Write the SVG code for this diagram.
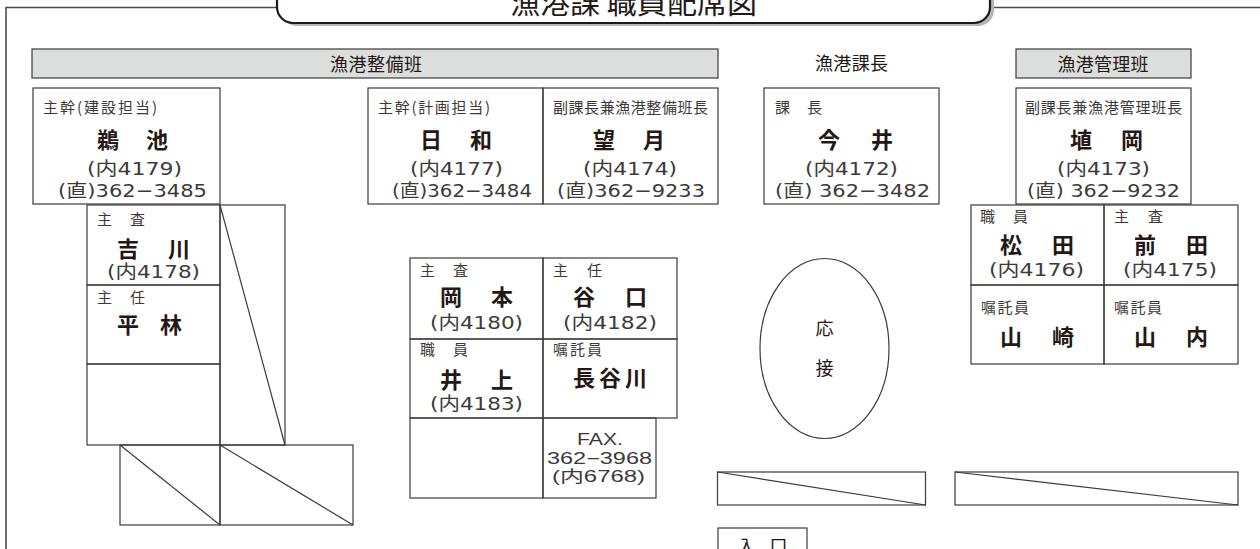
<svg xmlns="http://www.w3.org/2000/svg" width="1260" height="549" viewBox="0 0 1260 549">
<style>
.b{fill:none;stroke:#3e3a39;stroke-width:1.2}
.band{fill:#dcdddd;stroke:#3e3a39;stroke-width:1.2}
text{font-family:"Noto Sans CJK JP","Noto Sans CJK SC",sans-serif;fill:#231815}
.l{font-size:15px;fill:#3e3a39}
.n{font-size:22px;font-weight:bold;text-anchor:middle}
.d{font-family:"DejaVu Sans","Noto Sans CJK JP",sans-serif;font-size:18.5px;fill:#3e3a39;text-anchor:middle}
.f{font-family:"Liberation Sans","Noto Sans CJK JP",sans-serif;font-size:16px;fill:#3e3a39;text-anchor:middle}
.h{font-size:18px;text-anchor:middle}
</style>
<rect width="1260" height="549" fill="#fff"/>
<g id="frame">
<path d="M6,549 V7.5 H277 M990,7.5 H1260" fill="none" stroke="#4d4d4d" stroke-width="1.6"/>
<rect x="281" y="-28" width="713" height="54" rx="16" fill="#b5b5b6"/>
<rect x="277" y="-31" width="713" height="54" rx="16" fill="#fff" stroke="#231815" stroke-width="2.2"/>
<text x="633.5" y="14" font-size="28" text-anchor="middle" textLength="247" lengthAdjust="spacingAndGlyphs">漁港課 職員配席図</text>
</g>
<g id="headers">
<rect class="band" x="32" y="49" width="686" height="29"/>
<text class="h" x="376" y="71" textLength="92" lengthAdjust="spacing">漁港整備班</text>
<text class="h" x="851.5" y="70" textLength="73" lengthAdjust="spacing">漁港課長</text>
<rect class="band" x="1016" y="49" width="175" height="29"/>
<text class="h" x="1103" y="71" textLength="91" lengthAdjust="spacing">漁港管理班</text>
</g>
<g id="n-ujiike">
<rect class="b" x="33" y="88" width="187" height="116"/>
<text class="l" x="43" y="113" textLength="114" lengthAdjust="spacing">主幹(建設担当)</text>
<text class="n" x="132.5" y="148" textLength="71" lengthAdjust="spacing">鵜　池</text>
<text class="d" x="134.5" y="175" textLength="95" lengthAdjust="spacingAndGlyphs">(内4179)</text>
<text class="d" x="132.5" y="197" textLength="149" lengthAdjust="spacingAndGlyphs">(直)362−3485</text>
</g>
<g id="n-hiwa">
<rect class="b" x="368" y="88" width="175" height="116"/>
<text class="l" x="378" y="113" textLength="112" lengthAdjust="spacing">主幹(計画担当)</text>
<text class="n" x="456" y="148" textLength="72" lengthAdjust="spacing">日　和</text>
<text class="d" x="456.5" y="175" textLength="93" lengthAdjust="spacingAndGlyphs">(内4177)</text>
<text class="d" x="462" y="197" textLength="140" lengthAdjust="spacingAndGlyphs">(直)362−3484</text>
</g>
<g id="n-mochizuki">
<rect class="b" x="543" y="88" width="175" height="116"/>
<text class="l" x="553" y="113" textLength="155" lengthAdjust="spacing">副課長兼漁港整備班長</text>
<text class="n" x="629" y="148" textLength="72" lengthAdjust="spacing">望　月</text>
<text class="d" x="630" y="175" textLength="94" lengthAdjust="spacingAndGlyphs">(内4174)</text>
<text class="d" x="631" y="197" textLength="148" lengthAdjust="spacingAndGlyphs">(直)362−9233</text>
</g>
<g id="n-imai">
<rect class="b" x="764" y="88" width="175" height="116"/>
<text class="l" x="775" y="113" textLength="47" lengthAdjust="spacing">課　長</text>
<text class="n" x="855.5" y="148" textLength="75" lengthAdjust="spacing">今　井</text>
<text class="d" x="851.5" y="175" textLength="93" lengthAdjust="spacingAndGlyphs">(内4172)</text>
<text class="d" x="852.5" y="197" textLength="155" lengthAdjust="spacingAndGlyphs">(直) 362−3482</text>
</g>
<g id="n-haneoka">
<rect class="b" x="1016" y="88" width="175" height="116"/>
<text class="l" x="1025" y="113" textLength="157" lengthAdjust="spacing">副課長兼漁港管理班長</text>
<text class="n" x="1106.5" y="148" textLength="73" lengthAdjust="spacing">埴　岡</text>
<text class="d" x="1103.5" y="175" textLength="93" lengthAdjust="spacingAndGlyphs">(内4173)</text>
<text class="d" x="1103.5" y="197" textLength="153" lengthAdjust="spacingAndGlyphs">(直) 362−9232</text>
</g>
<g id="n-yoshikawa">
<rect class="b" x="87" y="205" width="133" height="80"/>
<text class="l" x="97" y="225" textLength="48" lengthAdjust="spacing">主　査</text>
<text class="n" x="153.5" y="257" textLength="73" lengthAdjust="spacing">吉　川</text>
<text class="d" x="153.5" y="278" textLength="93" lengthAdjust="spacingAndGlyphs">(内4178)</text>
</g>
<g id="n-hirabayashi">
<rect class="b" x="87" y="285" width="133" height="79"/>
<text class="l" x="97" y="303" textLength="48" lengthAdjust="spacing">主　任</text>
<text class="n" x="149.5" y="333" textLength="65" lengthAdjust="spacing">平　林</text>
</g>
<g id="furniture-left">
<rect class="b" x="87" y="364" width="133" height="81"/>
<rect class="b" x="220" y="205" width="65" height="240"/>
<line class="b" x1="220" y1="205" x2="285" y2="445"/>
<rect class="b" x="120" y="445" width="100" height="80"/>
<line class="b" x1="120" y1="445" x2="220" y2="525"/>
<rect class="b" x="220" y="445" width="133" height="80"/>
<line class="b" x1="220" y1="445" x2="353" y2="525"/>
</g>
<g id="n-okamoto">
<rect class="b" x="410" y="258" width="133" height="81"/>
<text class="l" x="420" y="276" textLength="48" lengthAdjust="spacing">主　査</text>
<text class="n" x="476.5" y="305" textLength="73" lengthAdjust="spacing">岡　本</text>
<text class="d" x="476.5" y="329" textLength="93" lengthAdjust="spacingAndGlyphs">(内4180)</text>
</g>
<g id="n-taniguchi">
<rect class="b" x="543" y="258" width="134" height="81"/>
<text class="l" x="553" y="276" textLength="49" lengthAdjust="spacing">主　任</text>
<text class="n" x="610" y="305" textLength="74" lengthAdjust="spacing">谷　口</text>
<text class="d" x="610" y="329" textLength="94" lengthAdjust="spacingAndGlyphs">(内4182)</text>
</g>
<g id="n-inoue">
<rect class="b" x="410" y="339" width="133" height="79"/>
<text class="l" x="420" y="355" textLength="48" lengthAdjust="spacing">職　員</text>
<text class="n" x="476.5" y="388" textLength="73" lengthAdjust="spacing">井　上</text>
<text class="d" x="476.5" y="410" textLength="93" lengthAdjust="spacingAndGlyphs">(内4183)</text>
</g>
<g id="n-hasegawa">
<rect class="b" x="543" y="339" width="134" height="79"/>
<text class="l" x="553" y="355" textLength="49" lengthAdjust="spacing">嘱託員</text>
<text class="n" x="610" y="386" font-size="23" textLength="74" lengthAdjust="spacing">長谷川</text>
</g>
<g id="furniture-mid">
<rect class="b" x="410" y="418" width="133" height="80"/>
</g>
<g id="n-fax">
<rect class="b" x="543" y="418" width="113" height="80"/>
<text class="f" x="600" y="445" textLength="46" lengthAdjust="spacingAndGlyphs">FAX.</text>
<text class="f" x="599.5" y="463.5" textLength="105" lengthAdjust="spacingAndGlyphs">362−3968</text>
<text class="f" x="598.5" y="482" textLength="93" lengthAdjust="spacingAndGlyphs">(内6768)</text>
</g>
<g id="n-reception">
<ellipse class="b" cx="824.5" cy="348.5" rx="64.5" ry="90"/>
<text x="824.5" y="335" font-size="18" text-anchor="middle" fill="#3e3a39">応</text>
<text x="824.5" y="375" font-size="18" text-anchor="middle" fill="#3e3a39">接</text>
</g>
<g id="n-matsuda">
<rect class="b" x="971" y="205" width="133" height="80"/>
<text class="l" x="980" y="222" textLength="48" lengthAdjust="spacing">職　員</text>
<text class="n" x="1037" y="253" textLength="74" lengthAdjust="spacing">松　田</text>
<text class="d" x="1036.5" y="276" textLength="95" lengthAdjust="spacingAndGlyphs">(内4176)</text>
</g>
<g id="n-maeda">
<rect class="b" x="1104" y="205" width="134" height="80"/>
<text class="l" x="1114" y="222" textLength="49" lengthAdjust="spacing">主　査</text>
<text class="n" x="1171" y="253" textLength="74" lengthAdjust="spacing">前　田</text>
<text class="d" x="1170" y="276" textLength="94" lengthAdjust="spacingAndGlyphs">(内4175)</text>
</g>
<g id="n-yamazaki">
<rect class="b" x="971" y="285" width="133" height="79"/>
<text class="l" x="981" y="313" textLength="48" lengthAdjust="spacing">嘱託員</text>
<text class="n" x="1037" y="345" textLength="74" lengthAdjust="spacing">山　崎</text>
</g>
<g id="n-yamauchi">
<rect class="b" x="1104" y="285" width="134" height="79"/>
<text class="l" x="1114" y="313" textLength="48" lengthAdjust="spacing">嘱託員</text>
<text class="n" x="1171" y="345" textLength="74" lengthAdjust="spacing">山　内</text>
</g>
<g id="furniture-right">
<rect class="b" x="717.5" y="472" width="208" height="33"/>
<line class="b" x1="717.5" y1="472" x2="925.5" y2="505"/>
<rect class="b" x="955" y="472" width="283" height="33"/>
<line class="b" x1="955" y1="472" x2="1238" y2="505"/>
</g>
<g id="n-entrance">
<rect class="b" x="718" y="528" width="89" height="40"/>
<text x="762.5" y="553" font-size="18" text-anchor="middle" fill="#3e3a39" textLength="50" lengthAdjust="spacing">入　口</text>
</g>
<g id="connectors"/>
</svg>
